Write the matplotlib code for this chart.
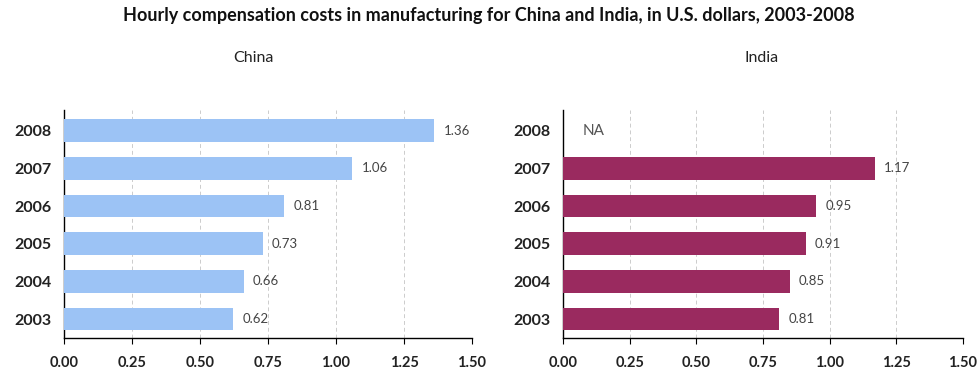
import matplotlib
matplotlib.use("Agg")
import matplotlib.pyplot as plt

plt.rcParams["font.family"] = ["Lato", "DejaVu Sans"]

# ----------------------------
# Data
# ----------------------------
years = ["2003", "2004", "2005", "2006", "2007", "2008"]
china = [0.62, 0.66, 0.73, 0.81, 1.06, 1.36]
india = [0.81, 0.85, 0.91, 0.95, 1.17, None]   # 2008 not available
x_ticks = [0.00, 0.25, 0.50, 0.75, 1.00, 1.25, 1.50]

CHINA_COLOR = "#9cc3f5"
INDIA_COLOR = "#9a2a5f"


def draw_panel(ax, values, color):
    pos = list(range(len(years)))
    for p, v in zip(pos, values):
        if v is None:
            ax.text(0.075, p, "NA", va="center", ha="left", fontsize=11, color="#555555")
            continue
        ax.barh(p, v, height=0.6, color=color, zorder=3)
        ax.text(v + 0.035, p, f"{v:.2f}", va="center", ha="left", fontsize=9.5, color="#444444")

    ax.set_xlim(0, 1.5)
    ax.set_ylim(-0.5, len(years) - 0.45)
    ax.set_xticks(x_ticks)
    ax.set_xticklabels([f"{t:.2f}" for t in x_ticks], fontsize=10.5, fontweight="bold", color="#222222")
    ax.set_yticks(pos)
    ax.set_yticklabels(years, fontsize=11.5, fontweight="bold", color="#222222")
    ax.tick_params(axis="y", length=0, pad=9)
    ax.tick_params(axis="x", direction="out", length=4, width=0.8, pad=9)

    for t in x_ticks[1:]:
        ax.axvline(t, color="#cccccc", linestyle=(0, (4, 3)), linewidth=0.7, zorder=1)

    for side in ("top", "right"):
        ax.spines[side].set_visible(False)
    ax.spines["left"].set_linewidth(1.0)
    ax.spines["bottom"].set_linewidth(1.0)


fig = plt.figure(figsize=(9.77, 3.72), dpi=100)
ax1 = fig.add_axes([64 / 977, 1 - 338 / 372, (472 - 64) / 977, (338 - 110) / 372])
ax2 = fig.add_axes([563 / 977, 1 - 338 / 372, (963 - 563) / 977, (338 - 110) / 372])

draw_panel(ax1, china, CHINA_COLOR)
draw_panel(ax2, india, INDIA_COLOR)

fig.text(0.5, 1 - 16 / 372,
         "Hourly compensation costs in manufacturing for China and India, in U.S. dollars, 2003-2008",
         ha="center", va="center", fontsize=13, fontweight="bold", color="#111111")
fig.text(253 / 977, 1 - 58 / 372, "China", ha="center", va="center", fontsize=11.5, color="#222222")
fig.text(762 / 977, 1 - 58 / 372, "India", ha="center", va="center", fontsize=11.5, color="#222222")

fig.savefig("out.png", dpi=100)
